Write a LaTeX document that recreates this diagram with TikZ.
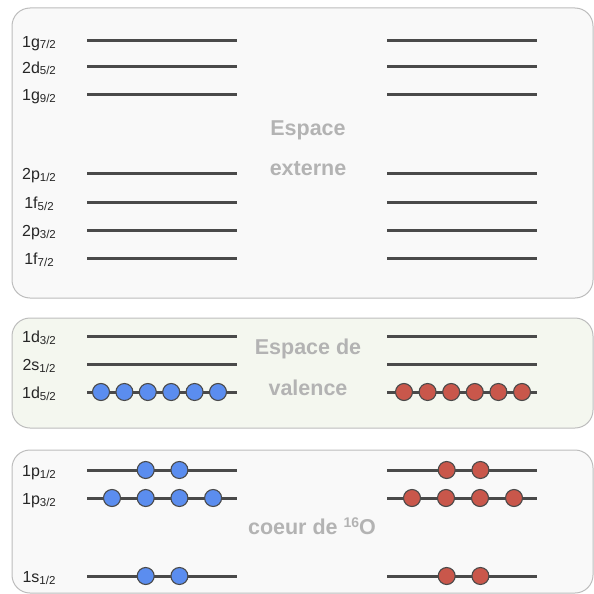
\documentclass[tikz,border=0pt]{standalone}
\usepackage{fontspec}
\setmainfont{Liberation Sans}
\usepackage{xcolor}
\usetikzlibrary{calc}
\definecolor{bordgris}{HTML}{BDBDBD}
\definecolor{fondgris}{HTML}{F9F9F9}
\definecolor{fondvert}{HTML}{F4F7EF}
\definecolor{niveau}{HTML}{4A4A4A}
\definecolor{gristitre}{HTML}{B3B3B3}
\definecolor{neutron}{HTML}{5B8DEF}
\definecolor{proton}{HTML}{C9574B}
\newcommand{\orb}[2]{#1{\fontsize{11.5}{12}\selectfont\raisebox{-1.5pt}{#2/2}}}

\begin{document}
\begin{tikzpicture}[x=1pt, y=-1pt,
    boite/.style={draw=bordgris, line width=1pt, rounded corners=18pt},
    niv/.style={draw=niveau, line width=3pt},
    etiq/.style={anchor=base, inner sep=0pt, text=black!85, font=\fontsize{16}{16}\selectfont},
    titre/.style={anchor=base, inner sep=0pt, text=gristitre, font=\fontsize{21.5}{22}\selectfont\bfseries},
    neut/.style={circle, draw=niveau, line width=1.1pt, fill=neutron, minimum size=17pt, inner sep=0pt},
    prot/.style={neut, fill=proton}]
    \useasboundingbox (0,0) rectangle (594,594);

    % Les trois boites
    \draw[boite, fill=fondgris] (12,8) rectangle (593,298);
    \draw[boite, fill=fondvert] (12,318) rectangle (593,428);
    \draw[boite, fill=fondgris] (12,450) rectangle (593,593);

    % Niveaux (nom, j, ordonnee)
    \foreach \n/\j/\y [count=\i] in {1g/7/41, 2d/5/67, 1g/9/94, 2p/1/173, 1f/5/202, 2p/3/230, 1f/7/258,
                                     1d/3/336, 2s/1/364, 1d/5/392,
                                     1p/1/470, 1p/3/498, 1s/1/576} {
        \node[etiq] (lab\i) at (39,\y+6.5) {\orb{\n}{\j}};
        \coordinate (gA\i) at (87,\y);
        \coordinate (gB\i) at (237,\y);
        \coordinate (dA\i) at (387,\y);
        \coordinate (dB\i) at (537,\y);
        \draw[niv] (gA\i) -- (gB\i);
        \draw[niv] (dA\i) -- (dB\i);
    }

    % Textes des espaces
    \node[titre] (esp1) at (308,135) {Espace};
    \node[titre] (esp2) at (308,175) {externe};
    \node[titre] (val1) at (308,354) {Espace de};
    \node[titre] (val2) at (308,395) {valence};
    \node[titre] (coeur) at (312,534) {coeur de \raisebox{7pt}{\fontsize{14}{14}\selectfont 16}O};

    % Couche de valence 1d5/2
    \foreach \k in {0,...,5} {
        \node[neut] (nv\k) at ($(gA10)+(14+23.4*\k,0)$) {};
        \node[prot] (pv\k) at ($(dA10)+(17+23.6*\k,0)$) {};
    }

    % Coeur de 16O
    \foreach \k in {1,2} {
        \node[neut] (np\k) at ($(gA11)+(25+33.7*\k,0)$) {};
        \node[prot] (pp\k) at ($(dA11)+(26+33.7*\k,0)$) {};
        \node[neut] (ns\k) at ($(gA13)+(25+33.7*\k,0)$) {};
        \node[prot] (ps\k) at ($(dA13)+(26+33.7*\k,0)$) {};
    }
    \foreach \k in {0,...,3} {
        \node[neut] (nq\k) at ($(gA12)+(25+33.7*\k,0)$) {};
        \node[prot] (pq\k) at ($(dA12)+(25+34*\k,0)$) {};
    }
\end{tikzpicture}
\end{document}
